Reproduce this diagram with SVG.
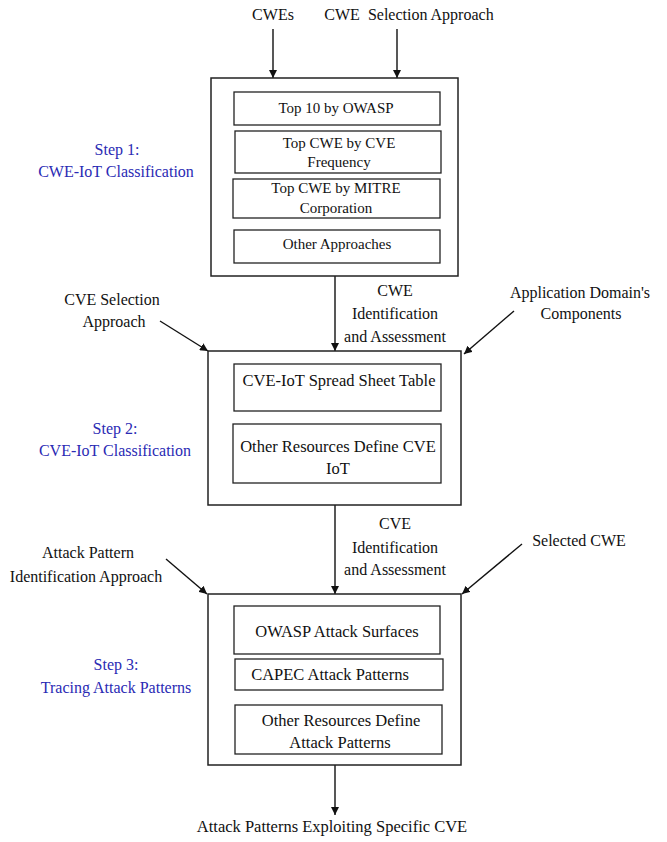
<svg xmlns="http://www.w3.org/2000/svg" width="667" height="842" viewBox="0 0 667 842" font-family="'Liberation Serif', serif">
<defs>
<marker id="ah" viewBox="0 0 10 10" refX="10" refY="5" markerWidth="8" markerHeight="8" markerUnits="userSpaceOnUse" orient="auto">
<path d="M0,0 L10,5 L0,10 z" fill="#111"/>
</marker>
<style>
text{font-family:'Liberation Serif',serif}
.box{fill:#fff;stroke:#222;stroke-width:1.5}
.ibox{fill:#fff;stroke:#222;stroke-width:1.3}
.t{font-size:16px;fill:#111;text-anchor:middle}
.s{font-size:15px;fill:#111;text-anchor:middle}
.m{font-size:16.5px;fill:#111;text-anchor:middle}
.step{font-size:16px;fill:#2a2ab4;text-anchor:middle}
.c{stroke:#111;stroke-width:1.4;fill:none;marker-end:url(#ah)}
</style>
</defs>
<rect width="667" height="842" fill="#fff"/>

<g id="connectors">
<line class="c" x1="273" y1="29" x2="273" y2="78"/>
<line class="c" x1="397" y1="29" x2="397" y2="78"/>
<line class="c" x1="335" y1="276" x2="335" y2="351"/>
<line class="c" x1="160" y1="321" x2="208" y2="351"/>
<line class="c" x1="514" y1="311" x2="464" y2="354"/>
<line class="c" x1="335" y1="505" x2="335" y2="594"/>
<line class="c" x1="166" y1="559" x2="207" y2="594"/>
<line class="c" x1="522" y1="544" x2="462" y2="594"/>
<line class="c" x1="335" y1="765" x2="335" y2="815"/>
</g>

<g id="in-cwes"><text class="t" x="273" y="20">CWEs</text></g>
<g id="in-cwe-sel"><text class="t" x="409" y="20" xml:space="preserve">CWE  Selection Approach</text></g>

<g id="step1">
<rect class="box" x="211" y="78" width="247" height="198"/>
<rect class="ibox" x="234" y="92" width="206" height="33"/>
<text class="s" x="336" y="113">Top 10 by OWASP</text>
<rect class="ibox" x="235" y="131" width="206" height="42"/>
<text class="s" x="339" y="148">Top CWE by CVE</text>
<text class="s" x="339" y="167">Frequency</text>
<rect class="ibox" x="233" y="179" width="207" height="39"/>
<text class="s" x="336" y="193">Top CWE by MITRE</text>
<text class="s" x="336" y="213">Corporation</text>
<rect class="ibox" x="234" y="230" width="206" height="33"/>
<text class="s" x="337" y="249">Other Approaches</text>
</g>
<g id="step1-label">
<text class="step" x="117" y="155">Step 1:</text>
<text class="step" x="116" y="177">CWE-IoT Classification</text>
</g>

<g id="lbl-cwe-ident">
<text class="t" x="395" y="296">CWE</text>
<text class="t" x="395" y="319">Identification</text>
<text class="t" x="395" y="342">and Assessment</text>
</g>
<g id="in-cve-sel">
<text class="t" x="112" y="305">CVE Selection</text>
<text class="t" x="114" y="327">Approach</text>
</g>
<g id="in-app-domain">
<text class="t" x="580" y="298">Application Domain's</text>
<text class="t" x="581" y="319">Components</text>
</g>

<g id="step2">
<rect class="box" x="208" y="351" width="253" height="154"/>
<rect class="ibox" x="234" y="364" width="207" height="47"/>
<text class="m" x="339" y="386">CVE-IoT Spread Sheet Table</text>
<rect class="ibox" x="233" y="424" width="208" height="59"/>
<text class="m" x="338" y="452">Other Resources Define CVE</text>
<text class="m" x="338" y="474">IoT</text>
</g>
<g id="step2-label">
<text class="step" x="115" y="434">Step 2:</text>
<text class="step" x="115" y="456">CVE-IoT Classification</text>
</g>

<g id="lbl-cve-ident">
<text class="t" x="395" y="529">CVE</text>
<text class="t" x="395" y="553">Identification</text>
<text class="t" x="395" y="575">and Assessment</text>
</g>
<g id="in-attack-approach">
<text class="t" x="88" y="558">Attack Pattern</text>
<text class="t" x="86" y="582">Identification Approach</text>
</g>
<g id="in-selected-cwe"><text class="t" x="579" y="546">Selected CWE</text></g>

<g id="step3">
<rect class="box" x="208" y="594" width="253" height="171"/>
<rect class="ibox" x="234" y="606" width="206" height="48"/>
<text class="m" x="337" y="637">OWASP Attack Surfaces</text>
<rect class="ibox" x="235" y="659" width="208" height="31"/>
<text class="m" x="330" y="680">CAPEC Attack Patterns</text>
<rect class="ibox" x="235" y="705" width="207" height="49"/>
<text class="m" x="341" y="726">Other Resources Define</text>
<text class="m" x="340" y="748">Attack Patterns</text>
</g>
<g id="step3-label">
<text class="step" x="116" y="670">Step 3:</text>
<text class="step" x="116" y="693">Tracing Attack Patterns</text>
</g>

<g id="out"><text class="t" x="332" y="832" style="font-size:16.5px">Attack Patterns Exploiting Specific CVE</text></g>
</svg>
